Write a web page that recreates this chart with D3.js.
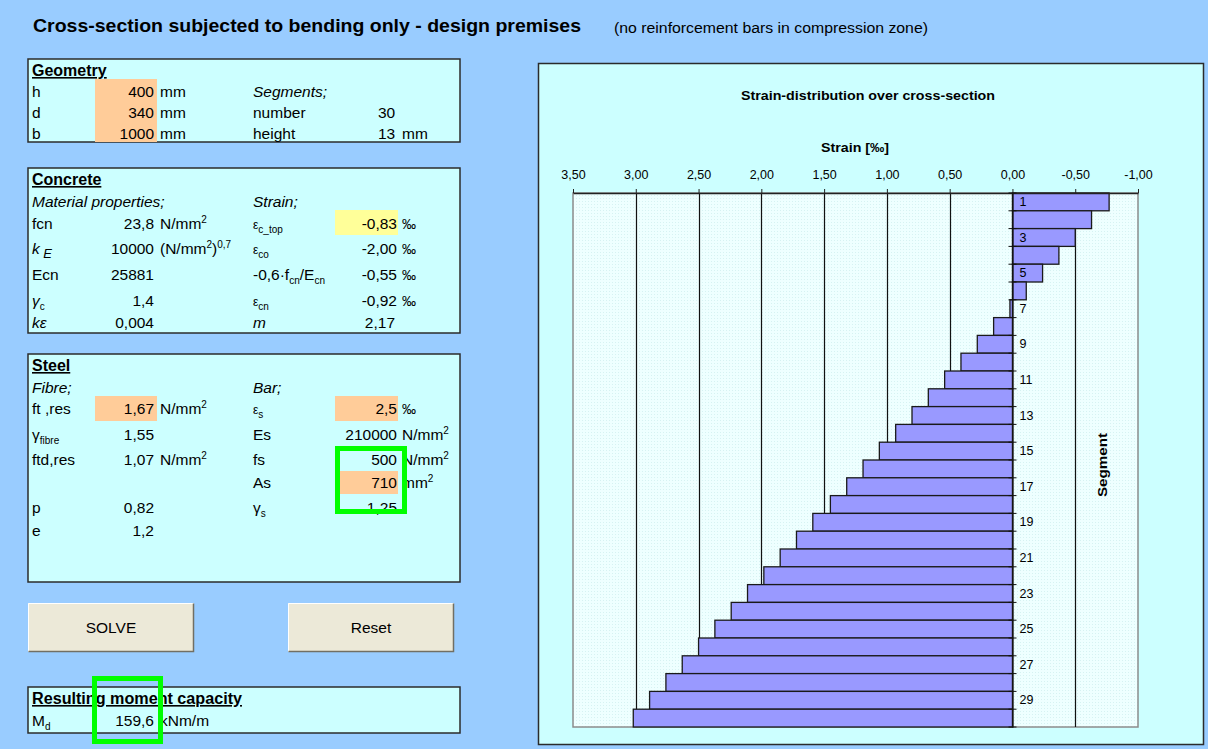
<!DOCTYPE html>
<html>
<head>
<meta charset="utf-8">
<script src="https://cdn.jsdelivr.net/npm/d3@7"></script>
<style>
html,body{margin:0;padding:0;background:#99CCFF;}
svg{display:block;}
text{font-family:"Liberation Sans",Arial,sans-serif;fill:#000;}
</style>
</head>
<body>
<svg id="c" width="1208" height="749"></svg>
<script>
// ---------- chart data ----------
const segments = [1,2,3,4,5,6,7,8,9,10,11,12,13,14,15,16,17,18,19,20,21,22,23,24,25,26,27,28,29,30];
const strain = [-0.77,-0.63,-0.50,-0.37,-0.24,-0.11,0.02,0.15,0.28,0.41,0.54,0.67,0.80,0.93,1.06,1.19,1.32,1.45,1.59,1.72,1.85,1.98,2.11,2.24,2.37,2.50,2.63,2.76,2.89,3.02];
const xTicks = [3.5,3.0,2.5,2.0,1.5,1.0,0.5,0.0,-0.5,-1.0];
const segmentLabels = [1,3,5,7,9,11,13,15,17,19,21,23,25,27,29];
const chartTitle = "Strain-distribution over cross-section";
const xAxisTitle = "Strain [‰]";
const yAxisTitle = "Segment";

// ---------- sheet texts ----------
const pageTitle = "Cross-section subjected to bending only - design premises";
const pageNote = "(no reinforcement bars in compression zone)";
const geomLabels = ["h","d","b"];
const geomValues = ["400","340","1000"];
const geomRight = [["Segments;",""],["number","30"],["height","13"]];
const concLeftValues = ["23,8","10000","25881","1,4","0,004"];
const concRightValues = ["-0,83","-2,00","-0,55","-0,92","2,17"];
const steelLeftValues = ["1,67","1,55","1,07","","0,82","1,2"];
const steelRightValues = ["2,5","210000","500","710","1,25"];
const momentValue = "159,6";

const svg = d3.select("#c");
const FS = 15.5;

function rich(x, y, parts, opt={}) {
  const t = svg.append("text").attr("x", x).attr("y", y)
    .attr("font-size", opt.size || FS)
    .attr("text-anchor", opt.anchor || "start");
  if (opt.bold) t.attr("font-weight", "bold");
  if (opt.italic) t.attr("font-style", "italic");
  if (opt.underline) t.attr("text-decoration", "underline");
  if (opt.len) t.attr("textLength", opt.len).attr("lengthAdjust", "spacingAndGlyphs");
  let cur = 0;
  parts.forEach(p => {
    if (typeof p === "string") p = {t: p};
    const s = p.sub ? 4 : p.sup ? -6 : 0;
    const ts = t.append("tspan").text(p.t).attr("dy", s - cur);
    cur = s;
    if (p.sub || p.sup) ts.attr("font-size", p.fs || 10);
    if (p.italic) ts.attr("font-style", "italic");
  });
  return t;
}
function txt(x, y, s, opt={}) { return rich(x, y, [s], opt); }
function box(x, y, w, h) {
  svg.append("rect").attr("x", x).attr("y", y).attr("width", w).attr("height", h)
    .attr("fill", "#CCFFFF").attr("stroke", "#2b2b2b").attr("stroke-width", 1.5);
}
function cell(x, y, w, h, c) {
  svg.append("rect").attr("x", x).attr("y", y).attr("width", w).attr("height", h).attr("fill", c);
}
function green(x, y, w, h) {
  svg.append("rect").attr("x", x).attr("y", y).attr("width", w).attr("height", h)
    .attr("fill", "none").attr("stroke", "#00FF00").attr("stroke-width", 5);
}

// column anchors
const cL = 32, cV = 154, cU = 160, c3 = 253, cV2 = 397, cU2 = 402;

// ---------- header ----------
txt(33, 32, pageTitle, {size: 18, bold: true, len: 548});
txt(614, 33, pageNote, {size: 14, len: 314});

// ---------- Geometry ----------
box(28, 59, 432, 83);
cell(95, 79, 62, 63, "#FFCC99");
txt(cL, 76, "Geometry", {bold: true, underline: true, size: 16});
const gy = [97, 118, 139];
geomLabels.forEach((l, i) => {
  txt(cL, gy[i], l);
  txt(cV, gy[i], geomValues[i], {anchor: "end"});
  txt(cU, gy[i], "mm");
  txt(c3, gy[i], geomRight[i][0], {italic: i === 0});
  if (geomRight[i][1]) txt(378, gy[i], geomRight[i][1]);
});
txt(402, gy[2], "mm");

// ---------- Concrete ----------
box(28, 168, 432, 165);
cell(335, 210, 63, 25, "#FFFF99");
txt(cL, 185, "Concrete", {bold: true, underline: true, size: 16});
txt(cL, 207, "Material properties;", {italic: true});
txt(c3, 207, "Strain;", {italic: true});
const cy = [229, 254, 280, 306, 328];
rich(cL, cy[0], ["fcn"]);
rich(cL, cy[1], [{t: "k", italic: true}, {t: " E", sub: true, italic: true, fs: 13}]);
rich(cL, cy[2], ["Ecn"]);
rich(cL, cy[3], [{t: "γ", italic: true}, {t: "c", sub: true}]);
rich(cL, cy[4], [{t: "kε", italic: true}]);
concLeftValues.forEach((v, i) => txt(cV, cy[i], v, {anchor: "end"}));
rich(cU, cy[0], ["N/mm", {t: "2", sup: true}]);
rich(cU, cy[1], ["(N/mm", {t: "2", sup: true}, {t: ")"}, {t: "0,7", sup: true}]);
rich(c3, cy[0], [{t: "ε"}, {t: "c_top", sub: true}], {size: 12});
rich(c3, cy[1], [{t: "ε"}, {t: "co", sub: true}], {size: 12});
rich(c3, cy[2], ["-0,6·f", {t: "cn", sub: true}, {t: "/E"}, {t: "cn", sub: true}]);
rich(c3, cy[3], [{t: "ε"}, {t: "cn", sub: true}], {size: 12});
rich(c3, cy[4], [{t: "m", italic: true}]);
concRightValues.forEach((v, i) => {
  txt(i === 4 ? 395 : cV2, cy[i], v, {anchor: "end"});
  if (i < 4) txt(cU2, cy[i], "‰", {size: 14});
});

// ---------- Steel ----------
box(28, 354, 432, 228);
cell(95, 396, 62, 25, "#FFCC99");
cell(335, 396, 63, 25, "#FFCC99");
cell(338, 471, 60, 23, "#FFCC99");
txt(cL, 371, "Steel", {bold: true, underline: true, size: 16});
txt(cL, 393, "Fibre;", {italic: true});
txt(c3, 393, "Bar;", {italic: true});
const sy = [414, 440, 465, 488, 513, 536];
rich(cL, sy[0], ["ft ,res"]);
rich(cL, sy[1], [{t: "γ"}, {t: "fibre", sub: true}]);
rich(cL, sy[2], ["ftd,res"]);
rich(cL, sy[4], ["p"]);
rich(cL, sy[5], ["e"]);
steelLeftValues.forEach((v, i) => { if (v) txt(cV, sy[i], v, {anchor: "end"}); });
rich(cU, sy[0], ["N/mm", {t: "2", sup: true}]);
rich(cU, sy[2], ["N/mm", {t: "2", sup: true}]);
rich(c3, sy[0], [{t: "ε"}, {t: "s", sub: true}], {size: 12});
rich(c3, sy[1], ["Es"]);
rich(c3, sy[2], ["fs"]);
rich(c3, sy[3], ["As"]);
rich(c3, sy[4], [{t: "γ"}, {t: "s", sub: true}]);
steelRightValues.forEach((v, i) => txt(cV2, sy[i], v, {anchor: "end"}));
txt(cU2, sy[0], "‰", {size: 14});
rich(cU2, sy[1], ["N/mm", {t: "2", sup: true}]);
rich(cU2, sy[2], ["N/mm", {t: "2", sup: true}]);
rich(cU2, sy[3], ["mm", {t: "2", sup: true}]);
green(337.5, 448.5, 67, 63);

// ---------- buttons ----------
function button(x, y, w, h, label) {
  svg.append("rect").attr("x", x).attr("y", y).attr("width", w).attr("height", h).attr("fill", "#ECE9D8");
  svg.append("path").attr("d", `M${x+0.5},${y+h-0.5}V${y+0.5}H${x+w-0.5}`).attr("fill", "none").attr("stroke", "#fff");
  svg.append("path").attr("d", `M${x+0.5},${y+h-0.5}H${x+w-0.5}V${y+0.5}`).attr("fill", "none").attr("stroke", "#716F64").attr("stroke-width", 1.5);
  txt(x + w / 2, y + h / 2 + 5, label, {anchor: "middle"});
}
button(28, 603, 166, 49, "SOLVE");
button(288, 603, 166, 49, "Reset");

// ---------- result ----------
box(28, 687, 432, 46);
txt(cL, 704, "Resulting moment capacity", {bold: true, underline: true, size: 16, len: 210});
rich(cL, 726, ["M", {t: "d", sub: true}]);
txt(cV, 726, momentValue, {anchor: "end"});
txt(cU, 726, "kNm/m");
green(94.5, 678.5, 66, 63);

// ---------- chart ----------
svg.append("rect").attr("x", 538.5).attr("y", 63.5).attr("width", 665).attr("height", 681)
  .attr("fill", "#CCFFFF").attr("stroke", "#2b2b2b").attr("stroke-width", 1.5);

const defs = svg.append("defs");
const pat = defs.append("pattern").attr("id", "dots").attr("width", 3).attr("height", 3).attr("patternUnits", "userSpaceOnUse");
pat.append("rect").attr("width", 3).attr("height", 3).attr("fill", "#EEFFFF");
pat.append("rect").attr("width", 1).attr("height", 1).attr("fill", "#D6F2F2");

const x = d3.scaleLinear().domain([3.5, -1]).range([573, 1138]);
const y = d3.scaleBand().domain(segments).range([193, 727]).padding(0);
const pTop = y.range()[0], pBot = y.range()[1];

svg.append("rect").attr("x", x(3.5)).attr("y", pTop).attr("width", x(-1) - x(3.5)).attr("height", pBot - pTop)
  .attr("fill", "url(#dots)").attr("stroke", "#8c8c8c").attr("stroke-width", 1.5);

// gridlines
svg.append("g").selectAll("line").data(xTicks.filter(d => d !== 3.5 && d !== -1 && d !== 0)).join("line")
  .attr("x1", d => Math.round(x(d)) + 0.5).attr("x2", d => Math.round(x(d)) + 0.5)
  .attr("y1", pTop).attr("y2", pBot).attr("stroke", "#111").attr("stroke-width", 1.2);

// bars
svg.append("g").selectAll("rect").data(segments).join("rect")
  .attr("x", (d, i) => Math.min(x(strain[i]), x(0)))
  .attr("width", (d, i) => Math.abs(x(strain[i]) - x(0)))
  .attr("y", d => y(d))
  .attr("height", y.bandwidth())
  .attr("fill", "#9999FF").attr("stroke", "#1a1a1a").attr("stroke-width", 1.3);

// top axis
const fmt = d => d.toFixed(2).replace(".", ",");
const ax = svg.append("g").attr("transform", `translate(0,${pTop})`)
  .call(d3.axisTop(x).tickValues(xTicks).tickFormat(fmt).tickSize(4).tickSizeOuter(0).tickPadding(10));
ax.select(".domain").attr("stroke", "#222").attr("stroke-width", 1.3);
ax.selectAll(".tick line").attr("stroke", "#222");
ax.selectAll("text").attr("font-size", 12.5).attr("font-family", "'Liberation Sans',Arial,sans-serif");

// category axis at zero
const x0 = Math.round(x(0)) + 0.5;
const ay = svg.append("g").attr("transform", `translate(${x0},0)`)
  .call(d3.axisRight(y).tickValues(segmentLabels).tickSize(0).tickPadding(7));
ay.select(".domain").attr("stroke", "#111").attr("stroke-width", 1.3);
ay.selectAll("text").attr("font-size", 12.5).attr("font-family", "'Liberation Sans',Arial,sans-serif");
svg.append("g").selectAll("line").data(segments.concat([null])).join("line")
  .attr("x1", x0 - 4).attr("x2", x0 + 4)
  .attr("y1", d => d === null ? pBot : y(d)).attr("y2", d => d === null ? pBot : y(d))
  .attr("stroke", "#111");

// chart titles
txt(868, 100, chartTitle, {size: 13, bold: true, anchor: "middle", len: 254});
txt(855, 152, xAxisTitle, {size: 13, bold: true, anchor: "middle", len: 68});
svg.append("text").attr("transform", "translate(1107,465) rotate(-90)")
  .attr("text-anchor", "middle").attr("font-size", 13).attr("font-weight", "bold")
  .attr("textLength", 64).attr("lengthAdjust", "spacingAndGlyphs").text(yAxisTitle);
</script>
</body>
</html>
